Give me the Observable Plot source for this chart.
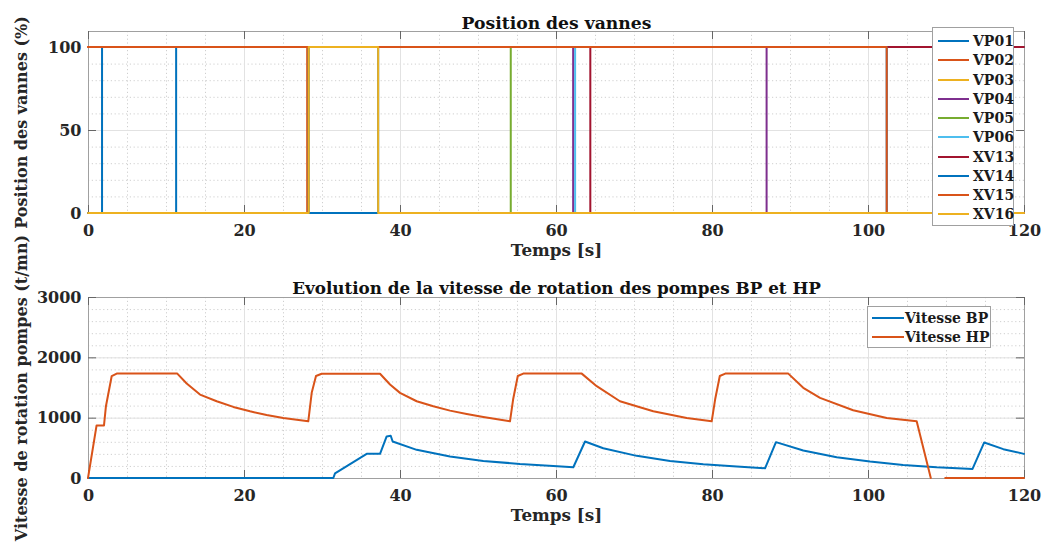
<!DOCTYPE html>
<html><head><meta charset="utf-8">
<script src="https://cdn.jsdelivr.net/npm/d3@7"></script>
<script src="https://cdn.jsdelivr.net/npm/@observablehq/plot@0.6"></script>
<style>
body{margin:0;background:#fff;}
#wrap{position:relative;width:1048px;height:542px;font-family:"DejaVu Serif",serif;}
#wrap svg{position:absolute;left:0;overflow:visible;}
.legend{position:absolute;background:#fff;border:1px solid #a0a0a0;box-sizing:border-box;font-weight:bold;color:#1a1a1a;font-family:"DejaVu Serif",serif;}
.legend .row{position:absolute;left:0;height:0;}
.legend .sw{position:absolute;height:2px;top:-1px;}
.legend .lb{position:absolute;top:0;transform:translateY(-50%);white-space:nowrap;line-height:1;}
</style></head><body><div id="wrap"></div>
<script>
// ---------- data ----------
const valveNames  = ["VP01","VP02","VP03","VP04","VP05","VP06","XV13","XV14","XV15","XV16"];
const valveColors = ["#0072BD","#D95319","#EDB120","#7E2F8E","#77AC30","#4DBEEE","#A2142F","#0072BD","#D95319","#EDB120"];
// [time s, position %]
const VP01 = [[0,0],[1.8,0],[1.8,100],[120,100]];
const VP02 = [[0,100],[28.1,100],[28.1,0],[120,0]];
const VP03 = [[0,0],[120,0]];
const VP04 = [[0,0],[62.2,0],[62.2,100],[87.0,100],[87.0,0],[120,0]];
const VP05 = [[0,0],[54.2,0],[54.2,100],[120,100]];
const VP06 = [[0,0],[62.45,0],[62.45,100],[120,100]];
const XV13 = [[0,0],[64.4,0],[64.4,100],[120,100]];
const XV14 = [[0,0],[11.3,0],[11.3,100],[28.3,100],[28.3,0],[37.2,0],[37.2,100],[102.4,100],[102.4,0],[120,0]];
const XV15 = [[0,100],[102.4,100],[102.4,0],[120,0]];
const XV16 = [[0,0],[28.3,0],[28.3,100],[37.2,100],[37.2,0],[120,0]];
const valveSeries = [VP01,VP02,VP03,VP04,VP05,VP06,XV13,XV14,XV15,XV16];

const speedNames  = ["Vitesse BP","Vitesse HP"];
const speedColors = ["#0072BD","#D95319"];
// [time s, speed t/mn]; null = below the visible range (off the chart)
const vitesseBP = [[0,0],[31.45,0],[31.67,78],[35.73,400],[37.44,400],[38.29,689],[38.81,700],[39.06,605],
  [42.14,467],[46.41,356],[50.68,283],[55.38,233],[59.65,200],[62.22,178],[63.72,605],[66.06,494],
  [70.35,367],[74.62,283],[78.88,228],[83.17,189],[86.8,161],[88.2,594],[91.7,456],[95.99,344],
  [100.26,272],[104.5,217],[108.8,178],[113.4,150],[114.9,589],[117.35,478],[120,400]];
const vitesseHP = [[0,0],[1.1,872],[2.05,872],[2.3,1190],[3.04,1690],[3.68,1730],[11.45,1730],[12.65,1567],
  [14.36,1383],[16.5,1272],[18.63,1178],[20.77,1105],[22.9,1044],[25.04,994],[28.24,939],[28.68,1411],
  [29.23,1690],[29.96,1728],[37.44,1728],[38.72,1550],[40.0,1411],[42.14,1272],[44.27,1189],[46.41,1117],
  [48.55,1061],[50.68,1011],[54.1,939],[54.5,1300],[55.1,1690],[55.8,1730],[63.3,1730],[65.22,1522],
  [68.2,1272],[72.47,1105],[76.76,994],[79.96,939],[80.4,1300],[81.0,1690],[81.7,1730],[89.78,1730],
  [91.7,1495],[93.85,1328],[98.1,1122],[102.4,994],[106.24,939],[108.05,0],[108.5,null],
  [109.9,0],[120,0]];

const timeTicks  = [0,20,40,60,80,100,120];
const posTicks   = [0,50,100];
const speedTicks = [0,1000,2000,3000];

// ---------- build ----------
const valveRows = valveSeries.flatMap((s,i)=>s.map(([t,v])=>({t,v,name:valveNames[i]})));
const speedRows = [vitesseBP,vitesseHP].flatMap((s,i)=>s.map(([t,v])=>({t,v,name:speedNames[i]})));

const minorX = d3.range(0,121,5);
const wrap = document.getElementById("wrap");
const svgStyle = {overflow:"visible",background:"transparent",fontFamily:"DejaVu Serif",fontWeight:"bold",fontSize:"16px",color:"#262626"};
const gridMinor = {stroke:"#cfcfcf",strokeOpacity:1,strokeDasharray:"1.2,2.6"};
const gridMajor = {stroke:"#e2e2e2",strokeOpacity:1};
const tickCol = "#666";

function panel({rows,names,colors,yDomain,yTicks,minorY,height,mt,mb,title,ylabel,tickLen,xlabDy,titleSize}){
  const [y0,y1] = yDomain;
  const ph = height-mt-mb, pw = 1048-88-24;
  const ky = tickLen*(y1-y0)/ph, kx = tickLen*120/pw;
  return Plot.plot({
    width:1048,height,marginTop:mt,marginBottom:mb,marginLeft:88,marginRight:24,
    style:svgStyle,
    x:{domain:[0,120]},
    y:{domain:yDomain},
    color:{domain:names,range:colors},
    marks:[
      Plot.gridX(minorX,gridMinor),
      Plot.gridY(minorY,gridMinor),
      Plot.gridX(timeTicks,gridMajor),
      Plot.gridY(yTicks,gridMajor),
      Plot.frame({stroke:"#a0a0a0",strokeWidth:1}),
      Plot.ruleX(timeTicks,{y1:y0,y2:y0+ky,stroke:tickCol}),
      Plot.ruleX(timeTicks,{y1:y1-ky,y2:y1,stroke:tickCol}),
      Plot.ruleY(yTicks,{x1:0,x2:kx,stroke:tickCol}),
      Plot.ruleY(yTicks,{x1:120-kx,x2:120,stroke:tickCol}),
      Plot.line(rows,{x:"t",y:"v",z:"name",stroke:"name",strokeWidth:2,dy:-0.5,dx:-0.5}),
      Plot.axisX(timeTicks,{tickSize:0,tickPadding:11,label:null,fill:"#262626",tickFormat:d=>String(d)}),
      Plot.axisY(yTicks,{tickSize:0,tickPadding:7,label:null,fill:"#262626",tickFormat:d=>String(d)}),
      Plot.text([title],{text:d=>d,frameAnchor:"top",dy:-15,fontSize:titleSize,fill:"#111"}),
      Plot.text(["Temps [s]"],{text:d=>d,frameAnchor:"bottom",dy:xlabDy,fontSize:16.8,fill:"#262626"}),
      Plot.text([ylabel],{text:d=>d,frameAnchor:"left",textAnchor:"middle",dx:-67,rotate:-90,fontSize:16,fill:"#262626"})
    ]
  });
}

const topPlot = panel({rows:valveRows,names:valveNames,colors:valveColors,yDomain:[0,109.64],yTicks:posTicks,
  minorY:d3.range(0,110,10),height:262,mt:31,mb:49,title:"Position des vannes",ylabel:"Position des vannes (%)",tickLen:8,xlabDy:42,titleSize:17.2});
topPlot.style.top="0px";
wrap.appendChild(topPlot);

const botPlot = panel({rows:speedRows,names:speedNames,colors:speedColors,yDomain:[0,3000],yTicks:speedTicks,
  minorY:d3.range(0,3001,200),height:280,mt:35,mb:64,title:"Evolution de la vitesse de rotation des pompes BP et HP",
  ylabel:"Vitesse de rotation pompes (t/mn)",tickLen:8,xlabDy:42,titleSize:16.8});
botPlot.style.top="262px";
wrap.appendChild(botPlot);

function legend(names,colors,{left,top,width,height,first,step,swL,swW,txL,fs}){
  const box=document.createElement("div");
  box.className="legend";
  Object.assign(box.style,{left:left+"px",top:top+"px",width:width+"px",height:height+"px",fontSize:fs+"px"});
  names.forEach((n,i)=>{
    const r=document.createElement("div");r.className="row";r.style.top=(first+i*step)+"px";
    const sw=document.createElement("div");sw.className="sw";
    Object.assign(sw.style,{left:swL+"px",width:swW+"px",background:colors[i]});
    const lb=document.createElement("div");lb.className="lb";lb.style.left=txL+"px";lb.textContent=n;
    r.appendChild(sw);r.appendChild(lb);box.appendChild(r);
  });
  wrap.appendChild(box);
}
legend(valveNames,valveColors,{left:932,top:27,width:82,height:199,first:13,step:19.27,swL:5,swW:31,txL:40,fs:14});
legend(speedNames,speedColors,{left:867,top:306,width:124,height:42,first:11,step:19,swL:4,swW:32,txL:37,fs:14});
</script></body></html>
